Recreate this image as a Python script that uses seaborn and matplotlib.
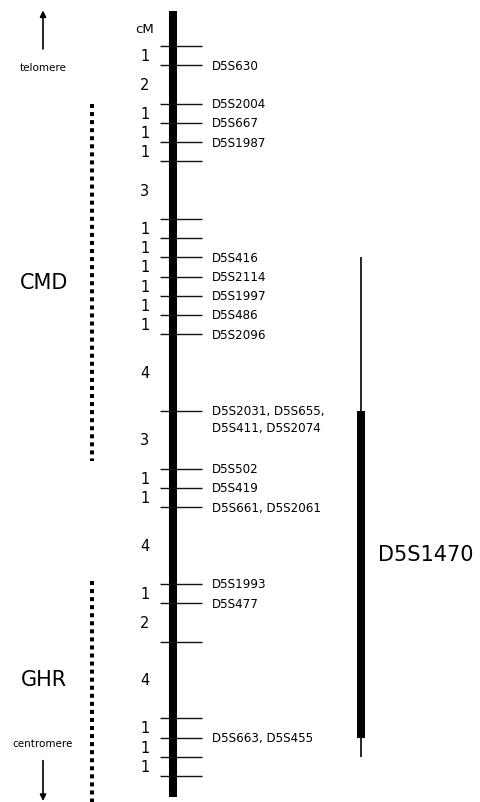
import numpy as np
import pandas as pd
import seaborn as sns
import matplotlib.pyplot as plt

# genetic distances (cM) between neighbouring marks, top to bottom
intervals = [1, 2, 1, 1, 1, 3, 1, 1, 1, 1, 1, 1, 4, 3, 1, 1, 4, 1, 2, 4, 1, 1, 1]
# marker names at each mark (same order, one more than intervals)
markers = ["", "D5S630", "D5S2004", "D5S667", "D5S1987", "", "", "",
           "D5S416", "D5S2114", "D5S1997", "D5S486", "D5S2096",
           "D5S2031, D5S655,\nD5S411, D5S2074", "D5S502", "D5S419",
           "D5S661, D5S2061", "D5S1993", "D5S477", "", "",
           "D5S663, D5S455", "", ""]

# D5S1470 span: thin top, thick core, thin tail (in cM)
yac_thin_top = [11, 19]
yac_core = [19, 36]
yac_thin_bottom = [36, 37]

# disease regions (cM)
cmd_region = [3.0, 21.6]
ghr_region = [27.85, 39.4]

pos = np.concatenate([[0], np.cumsum(intervals)])
mids = (pos[:-1] + pos[1:]) / 2
df = pd.DataFrame({"cM": pos, "marker": markers})

sns.set_theme(style="white", rc={"text.color": "black"})
plt.rcParams['font.family'] = ['DejaVu Sans']

fig = plt.figure(figsize=(4.81, 8.03), dpi=100)
ax = fig.add_axes([0, 0, 1, 1])
px = 730 / 38.0
ax.set_xlim(0, 481)
ax.set_ylim(38 + 26 / px, -47 / px)
ax.axis("off")


def vline(x, ys, width):
    sns.lineplot(x=[x, x], y=ys, ax=ax, color="black", linewidth=width,
                 estimator=None, sort=False, solid_capstyle="butt")


bar_x = 173
# chromosome bar
vline(bar_x, [-35 / px, 38 + 21 / px], 5.8)

# marks and labels
ax.hlines(df["cM"], 160, 202, color="#111111", lw=1.0)
for _, r in df.iterrows():
    if r["marker"]:
        if "\n" in r["marker"]:
            ax.text(212, r["cM"] - 0.36, r["marker"], fontsize=8.6,
                    va="top", ha="left", linespacing=1.4)
        else:
            ax.text(212, r["cM"], r["marker"], fontsize=8.6,
                    va="center", ha="left")
for m, d in zip(mids, intervals):
    ax.text(145, m, str(d), fontsize=10.5, ha="center", va="center")
ax.text(145, -0.9, "cM", fontsize=9.5, ha="center", va="center")

# D5S1470
yx = 361
vline(yx, yac_thin_top, 1.2)
vline(yx, yac_core, 5.8)
vline(yx, yac_thin_bottom, 1.2)
ax.text(378, 26.45, "D5S1470", fontsize=15, ha="left", va="center")

# CMD / GHR regions
for reg, name, ty in [(cmd_region, "CMD", 12.3), (ghr_region, "GHR", 32.95)]:
    ax.plot([92, 92], reg, color="black", lw=2.9, linestyle=(0, (1, 1)),
            dash_capstyle="butt")
    ax.text(44, ty, name, fontsize=15, ha="center", va="center")

# telomere / centromere arrows
ax.annotate("", xy=(43, -1.85), xytext=(43, 0.15),
            arrowprops=dict(arrowstyle="-|>", color="black", lw=1.2,
                            mutation_scale=9, shrinkA=0, shrinkB=0))
ax.text(43, 1.1, "telomere", fontsize=7.5, ha="center", va="center")
ax.annotate("", xy=(43, 39.3), xytext=(43, 37.2),
            arrowprops=dict(arrowstyle="-|>", color="black", lw=1.2,
                            mutation_scale=9, shrinkA=0, shrinkB=0))
ax.text(43, 36.3, "centromere", fontsize=7.5, ha="center", va="center")

fig.savefig("out.png", dpi=100)
